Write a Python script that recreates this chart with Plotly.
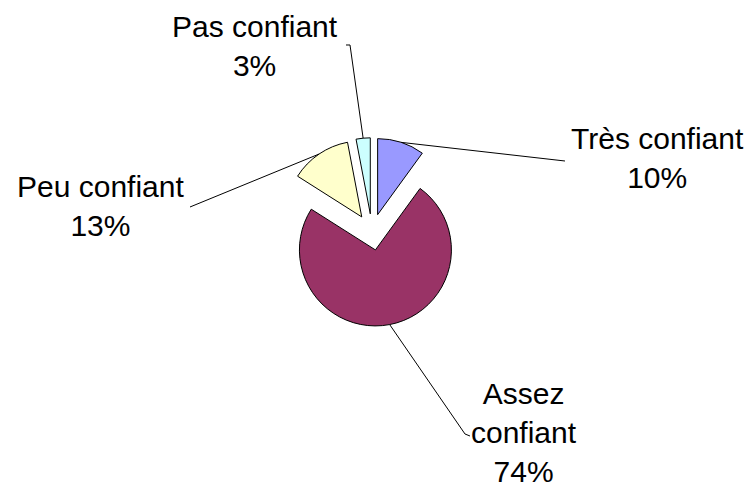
import math
import plotly.graph_objects as go

# ---- data ----
categories = ["Très confiant", "Assez confiant", "Peu confiant", "Pas confiant"]
values = [10, 74, 13, 3]
pct_labels = ["10%", "74%", "13%", "3%"]
label_text = ["Très confiant<br>10%", "Assez<br>confiant<br>74%", "Peu confiant<br>13%", "Pas confiant<br>3%"]
colors = ["#9999FF", "#993366", "#FFFFCC", "#CCFFFF"]

# ---- layout constants (pixels) ----
W, H = 751, 487
CX, CY = 372, 232          # pie centre
R = 76                     # slice radius
PULL = 0.24
# label block centres
label_pos = [(657, 158), (524, 432), (100, 206), (255, 46)]
# leader line ends near the labels (list of points after slice anchor)
leader_ends = [[(565, 161)], [(465, 434), (470, 436)], [(190, 207)], [(350, 45), (346, 45)]]


def px(x):
    return x / W


def py(y):
    return 1 - y / H


half = R * (1 + PULL)
fig = go.Figure(go.Pie(
    labels=categories,
    values=values,
    sort=False,
    direction="clockwise",
    rotation=0,
    pull=[PULL] * len(values),
    marker=dict(colors=colors, line=dict(color="black", width=1)),
    textinfo="none",
    hoverinfo="label+percent",
    domain=dict(x=[px(CX - half), px(CX + half)], y=[py(CY + half), py(CY - half)]),
    showlegend=False,
))

total = sum(values)
cum = 0
shapes = []
annotations = []
for i, v in enumerate(values):
    mid = (cum + v / 2) / total * 2 * math.pi
    cum += v
    ax = CX + half * math.sin(mid)
    ay = CY - half * math.cos(mid)
    pts = [(ax, ay)] + leader_ends[i]
    path = "M " + " L ".join(f"{px(x):.5f},{py(y):.5f}" for x, y in pts)
    shapes.append(dict(type="path", path=path, xref="paper", yref="paper",
                       line=dict(color="black", width=1)))
    lx, ly = label_pos[i]
    annotations.append(dict(text=label_text[i], x=px(lx), y=py(ly), xref="paper", yref="paper",
                            xanchor="center", yanchor="middle", showarrow=False, align="center",
                            font=dict(family="Liberation Sans, Arial", size=30, color="black")))

fig.update_layout(
    width=W, height=H,
    margin=dict(l=0, r=0, t=0, b=0),
    paper_bgcolor="white", plot_bgcolor="white",
    shapes=shapes, annotations=annotations,
)
fig.write_html("out.html", config={"displayModeBar": False},
               post_script="document.body.style.margin='0';document.body.style.overflow='hidden';")
